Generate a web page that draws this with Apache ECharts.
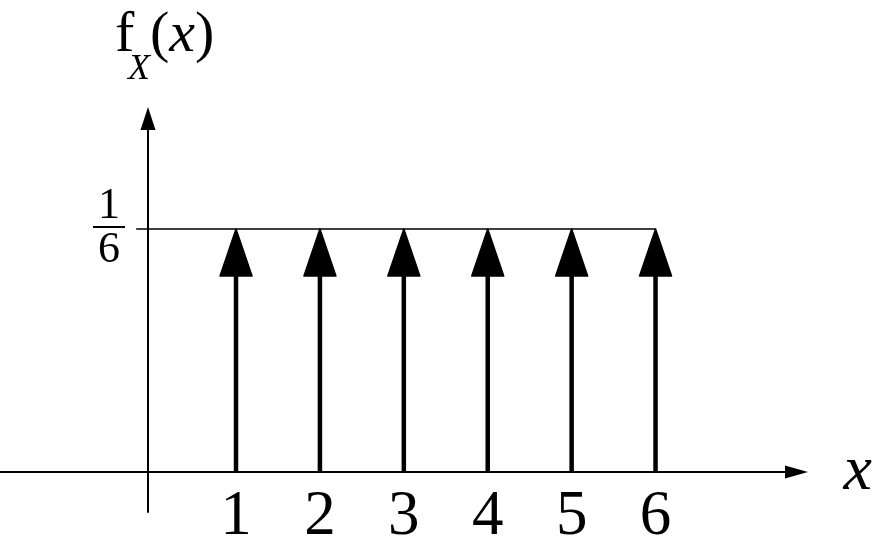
<!DOCTYPE html>
<html>
<head>
<meta charset="utf-8">
<title>f_X(x) — fair die</title>
<script src="https://cdn.jsdelivr.net/npm/echarts@6/dist/echarts.min.js"></script>
<style>
  html, body { margin: 0; padding: 0; background: #fff; }
  #chart { width: 877px; height: 540px; }
</style>
</head>
<body>
<div id="chart"></div>
<script>
// Outcomes of a fair six-sided die and their probabilities
const outcomes = [1, 2, 3, 4, 5, 6];
const probabilities = [1 / 6, 1 / 6, 1 / 6, 1 / 6, 1 / 6, 1 / 6];
const xTickLabels = ['1', '2', '3', '4', '5', '6'];
const yTickValues = [1 / 6];
// guide line at p = 1/6, from just left of the vertical axis to the last impulse
const guideFrom = -0.19;
const guideTo = 6;

const serif = 'Liberation Serif';

const chart = echarts.init(document.getElementById('chart'), null, { renderer: 'canvas' });

const impulseData = outcomes.map((x, i) => [x, probabilities[i]]);

chart.setOption({
  backgroundColor: '#ffffff',
  animation: false,
  grid: { left: 0, right: 80.5, top: 118.5, bottom: 28, containLabel: false, outerBoundsMode: 'none' },
  xAxis: {
    type: 'value',
    min: -1.813,
    max: 7.68,
    name: 'x',
    nameLocation: 'end',
    nameGap: 47,
    nameTextStyle: {
      fontFamily: serif, fontStyle: 'italic', fontSize: 64, color: '#000',
      verticalAlign: 'middle', padding: [0, 0, 18, 0]
    },
    axisLine: {
      onZero: true,
      symbol: ['none', 'triangle'],
      symbolSize: [13, 23],
      lineStyle: { color: '#000', width: 2 }
    },
    axisTick: { show: false },
    splitLine: { show: false },
    axisLabel: {
      customValues: outcomes,
      formatter: (v) => xTickLabels[outcomes.indexOf(v)] || '',
      fontFamily: serif, fontSize: 63, lineHeight: 63, color: '#000', margin: -26
    }
  },
  yAxis: {
    type: 'value',
    min: -0.02743,
    max: 0.24246,
    offset: -148,
    axisLine: {
      show: true,
      onZero: false,
      symbol: ['none', 'triangle'],
      symbolSize: [15, 23],
      lineStyle: { color: '#000', width: 2 }
    },
    axisTick: { show: false },
    splitLine: { show: false },
    axisLabel: {
      customValues: yTickValues,
      margin: 23,
      formatter: () => '{n|1}\n{bar|}\n{d|6}',
      rich: {
        n: { fontFamily: serif, fontSize: 44, color: '#000', lineHeight: 40, align: 'center' },
        bar: { width: 32, height: 2, backgroundColor: '#000', align: 'center' },
        d: { fontFamily: serif, fontSize: 44, color: '#000', lineHeight: 44, align: 'center' }
      }
    }
  },
  graphic: [
    {
      type: 'text', left: 115, top: 7,
      style: { text: 'f', font: '58px ' + serif, fill: '#000' }
    },
    {
      type: 'text', left: 128, top: 52,
      style: { text: 'X', font: 'italic 36px ' + serif, fill: '#000' }
    },
    {
      type: 'text', left: 150, top: 7,
      style: {
        text: '{p|(}{i|x}{p|)}',
        rich: {
          p: { fontFamily: serif, fontSize: 58, color: '#000' },
          i: { fontFamily: serif, fontStyle: 'italic', fontSize: 58, color: '#000' }
        }
      }
    }
  ],
  series: [
    {
      type: 'line',
      data: [[guideFrom, yTickValues[0]], [guideTo, yTickValues[0]]],
      symbol: 'none',
      silent: true,
      z: 1,
      lineStyle: { color: '#000', width: 1.4 }
    },
    {
      type: 'custom',
      data: impulseData,
      z: 3,
      renderItem: function (params, api) {
        const x = api.value(0);
        const p = api.value(1);
        const tip = api.coord([x, p]);
        const base = api.coord([x, 0]);
        const headLen = 47;
        const headHalf = 16;
        const stemW = 4.5;
        return {
          type: 'group',
          children: [
            {
              type: 'rect',
              shape: { x: tip[0] - stemW / 2, y: tip[1] + headLen - 4, width: stemW, height: base[1] - tip[1] - headLen + 4 },
              style: { fill: '#000' }
            },
            {
              type: 'polygon',
              shape: { points: [[tip[0], tip[1]], [tip[0] + headHalf, tip[1] + headLen], [tip[0] - headHalf, tip[1] + headLen]] },
              style: { fill: '#000', stroke: '#000', lineWidth: 1.5, lineJoin: 'round' }
            }
          ]
        };
      }
    }
  ]
});
</script>
</body>
</html>
